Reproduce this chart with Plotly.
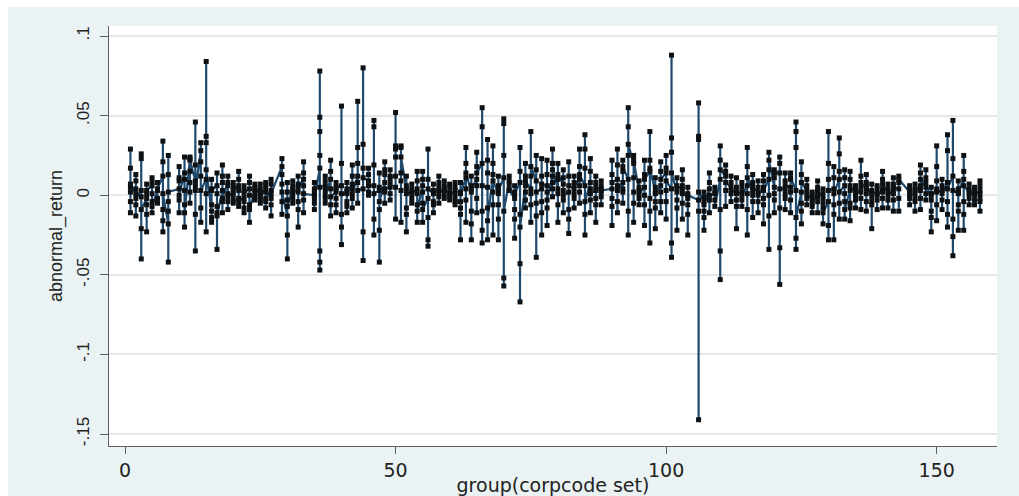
import plotly.graph_objects as go

# Abnormal returns by event group (corpcode set); each entry is (group, returns in data order)
ar_groups_001_040 = [
    (1, [.005, .029, .017, -.004, -.011, .002, .007]),
    (2, [.001, .013, -.006, .004, -.013, .009, -.002]),
    (3, [.003, .026, -.001, -.021, -.040, .023, -.009]),
    (4, [-.002, .007, -.012, .001, -.023, -.006, .003]),
    (5, [.006, .011, -.004, .001, -.011, .008, -.007]),
    (6, [.003, .008, -.002, -.005, .004]),
    (7, [.012, .034, -.009, .021, -.023, -.016, .001]),
    (8, [-.018, .025, -.004, .013, -.042, -.010, .002]),
    (10, [.004, .018, -.003, .009, -.011, .011, .000]),
    (11, [.014, .024, -.006, .003, -.020, .010, -.011]),
    (12, [.023, .024, .008, .015, -.005, .002, .022]),
    (13, [.009, .046, -.012, .006, -.035, .019, .003]),
    (14, [.028, .033, -.008, .012, -.017, .021, .003]),
    (15, [.010, .084, .037, .033, -.023, .001, .016]),
    (16, [-.010, .010, -.014, .004, -.017, -.006, .003]),
    (17, [.006, .014, -.011, .001, -.034, -.007, -.013]),
    (18, [.003, .019, -.004, .012, -.011, .008, -.002]),
    (19, [.008, .012, -.004, .001, -.009, .006, -.001]),
    (20, [.002, .008, -.003, .005, -.005, .000, .004]),
    (21, [.006, .015, -.002, .010, -.007, .003, -.004]),
    (22, [-.001, .006, -.008, .003, -.011, -.004, .002]),
    (23, [.004, .012, -.006, .008, -.017, .000, -.009]),
    (24, [.003, .007, -.001, .005, -.003, .001, .004]),
    (25, [.001, .007, -.003, .004, -.005, .002, -.001]),
    (26, [.004, .008, -.004, .002, -.008, .006, -.002]),
    (27, [.003, .010, -.006, .007, -.013, -.002, .001]),
    (29, [.018, .023, -.004, .013, -.012, .007, .002]),
    (30, [-.013, .008, -.025, -.003, -.040, .002, -.007]),
    (31, [.004, .009, -.002, .006, -.005, .001, .003]),
    (32, [.002, .012, -.009, .007, -.020, -.004, .005]),
    (33, [.010, .021, -.003, .006, -.011, .014, .001]),
    (35, [.000, .008, -.005, .004, -.009, .002, -.002]),
    (36, [.017, .078, .049, .040, .025, -.047, -.042, -.035, .005]),
    (37, [.006, .012, -.002, .009, -.005, .003, .000]),
    (38, [.010, .022, -.006, .015, -.013, .004, -.001]),
    (39, [.002, .008, -.006, .004, -.011, -.002, .005]),
    (40, [.006, .056, .020, -.012, -.031, -.020, .001]),
]

ar_groups_041_080 = [
    (41, [.001, .008, -.004, .004, -.011, -.007, .002]),
    (42, [.007, .019, -.002, .012, -.008, .004, .001]),
    (43, [.012, .059, .030, .020, -.005, .008, .003]),
    (44, [.004, .080, .032, .017, -.041, -.023, .011]),
    (45, [.009, .017, .002, .013, .000, .006]),
    (46, [.006, .047, .043, .019, -.025, -.015, .001]),
    (47, [.003, .014, -.009, .005, -.042, -.022, -.004]),
    (48, [.008, .021, .002, .013, -.005, .016, .004]),
    (49, [.005, .016, .001, .010, -.003, .007, .012]),
    (50, [.012, .052, .024, .029, -.015, .005, .031]),
    (51, [.030, .031, .009, .014, -.017, .003, .024]),
    (52, [.004, .012, -.008, .006, -.023, -.012, .001]),
    (53, [.002, .007, -.002, .004, -.005, .001]),
    (54, [.004, .015, -.006, .009, -.017, .001, -.010]),
    (55, [.006, .015, -.005, .010, -.017, .002, -.009]),
    (56, [-.002, .029, .010, -.014, -.032, -.028, .004]),
    (57, [.001, .007, -.004, .003, -.011, -.006, .002]),
    (58, [.003, .012, -.001, .008, -.005, .005, .001]),
    (59, [.004, .009, .001, .006, -.002, .003]),
    (60, [.002, .007, -.001, .005, -.003, .000]),
    (61, [.003, .008, -.002, .005, -.006, .001, -.004]),
    (62, [-.004, .008, -.012, .002, -.028, -.008, .001]),
    (63, [.011, .030, -.003, .020, -.017, .004, .014]),
    (64, [.002, .012, -.010, .006, -.028, -.018, .004]),
    (65, [.010, .027, -.002, .018, -.011, .006, .014]),
    (66, [.020, .055, .043, -.010, -.030, -.022, .006]),
    (67, [.005, .035, -.008, .022, -.028, .014, -.016]),
    (68, [.013, .031, -.006, .020, -.025, .002, .009]),
    (69, [.001, .012, -.015, .006, -.028, -.006, .003]),
    (70, [.011, .048, .045, .025, -.057, -.052, -.010]),
    (71, [.009, .012, .004, .007, .003]),
    (72, [-.002, .006, -.015, .002, -.027, -.009, .001]),
    (73, [.008, .030, -.012, .015, -.067, -.043, -.020]),
    (74, [.006, .020, -.003, .012, -.008, .002, .009]),
    (75, [.004, .040, .012, -.006, -.017, .001, .018]),
    (76, [.009, .025, -.013, .016, -.039, -.005, .002]),
    (77, [.004, .023, -.011, .012, -.025, -.004, .007]),
    (78, [.006, .022, -.008, .013, -.019, .002, -.003]),
    (79, [.012, .029, .004, .020, -.001, .008, .016]),
    (80, [.004, .020, -.006, .010, -.017, .001, .013]),
]

ar_groups_081_120 = [
    (81, [.007, .016, -.003, .011, -.011, .003, .000]),
    (82, [.002, .021, -.009, .012, -.024, -.015, .006]),
    (83, [.004, .012, -.002, .008, -.008, .001, .006]),
    (84, [.010, .029, .002, .018, -.005, .006, .013]),
    (85, [.006, .038, .029, .017, -.025, -.012, -.004]),
    (86, [.008, .023, -.003, .015, -.011, .004, .001]),
    (87, [.003, .012, -.006, .008, -.017, -.002, .005]),
    (88, [.004, .009, -.001, .006, -.006, .002, .003]),
    (90, [.004, .022, -.007, .013, -.019, -.002, .008]),
    (91, [.010, .029, -.004, .019, -.011, .006, .003]),
    (92, [.008, .022, .002, .015, -.005, .004, .018]),
    (93, [.010, .055, .043, .025, -.025, -.010, .032]),
    (94, [.020, .025, -.005, .011, -.017, .002, .022]),
    (95, [.003, .009, -.002, .005, -.006, .001]),
    (96, [.005, .022, -.006, .013, -.019, .000, .010]),
    (97, [.015, .040, .022, -.010, -.030, -.002, .017]),
    (98, [.002, .011, -.008, .005, -.021, -.004, .001]),
    (99, [.006, .021, -.004, .015, -.011, .002, .010]),
    (100, [.014, .025, -.004, .017, -.015, .003, .009]),
    (101, [.004, .088, .036, .027, -.039, -.030, .014]),
    (102, [.002, .011, -.008, .006, -.022, -.003, .004]),
    (103, [.006, .016, -.005, .010, -.015, .001, .003]),
    (104, [-.002, .005, -.012, .001, -.025, -.006, .000]),
    (106, [-.003, .058, .037, .035, -.141, -.010, .002]),
    (107, [-.004, .002, -.010, -.001, -.022, -.014, -.006]),
    (108, [.004, .014, -.003, .008, -.011, .000]),
    (109, [.001, .005, -.003, .002, -.007]),
    (110, [.010, .031, .022, -.009, -.053, -.035, .016]),
    (111, [.012, .019, .003, .015, -.007, .008]),
    (112, [.005, .012, .001, .008, -.004, .003]),
    (113, [.002, .011, -.007, .005, -.021, -.003, .001]),
    (114, [.002, .008, -.003, .005, -.007, .000]),
    (115, [.006, .030, .018, -.009, -.025, .001, .011]),
    (116, [.003, .013, -.004, .008, -.014, .000, .005]),
    (117, [.002, .009, -.004, .005, -.011, .000]),
    (118, [.005, .013, -.006, .009, -.018, -.002, .003]),
    (119, [.010, .027, -.013, .016, -.034, .000, .022]),
    (120, [.005, .016, -.003, .011, -.011, .001, .014]),
]

ar_groups_121_158 = [
    (121, [.014, .024, .020, -.008, -.056, -.033, .004]),
    (122, [.004, .014, -.002, .009, -.009, .001, .006]),
    (123, [.005, .014, -.003, .010, -.011, .002, .011]),
    (124, [.003, .046, .040, .030, -.034, -.027, -.014]),
    (125, [.002, .021, -.005, .013, -.018, -.010, .008]),
    (126, [.003, .010, -.002, .006, -.006, .001]),
    (127, [-.003, .002, -.007, .000, -.011, -.005]),
    (128, [.002, .009, -.004, .005, -.011, -.001, .003]),
    (129, [-.002, .004, -.008, .001, -.018, -.005, -.011]),
    (130, [-.004, .040, .020, .010, -.028, -.019, .003]),
    (131, [.004, .018, -.006, .011, -.028, -.012, .001]),
    (132, [.010, .036, .026, .015, -.015, -.005, .002]),
    (133, [.006, .016, -.004, .011, -.015, .001, -.009]),
    (134, [.003, .015, -.005, .010, -.016, -.008, .006]),
    (135, [.001, .006, -.003, .004, -.008, -.001]),
    (136, [.005, .022, -.002, .012, -.009, .002, .008]),
    (137, [.004, .013, -.004, .008, -.010, .001, .006]),
    (138, [-.001, .007, -.006, .003, -.021, -.004, .002]),
    (139, [.001, .006, -.003, .004, -.009, .000]),
    (140, [.004, .015, -.002, .010, -.008, .002, .007]),
    (141, [.002, .007, -.003, .004, -.008, .000]),
    (142, [.003, .011, -.003, .007, -.010, .001, .005]),
    (143, [.004, .012, -.002, .008, -.010, .010]),
    (145, [.002, .006, -.002, .004, -.006, .000]),
    (146, [.001, .007, -.004, .004, -.010, -.002, .003]),
    (147, [.006, .019, -.002, .014, -.009, .003, .010]),
    (148, [.005, .016, .001, .011, -.003, .008]),
    (149, [-.003, .005, -.010, .001, -.023, -.014, .000]),
    (150, [.004, .031, .018, .009, -.016, -.006, .002]),
    (151, [.003, .010, -.003, .006, -.009, .001]),
    (152, [.008, .038, .028, -.004, -.020, -.012, .004]),
    (153, [.012, .047, .023, -.015, -.038, -.026, .003]),
    (154, [.001, .009, -.006, .004, -.022, -.010, .002]),
    (155, [.010, .025, .015, -.004, -.022, -.012, .006]),
    (156, [.002, .007, -.002, .004, -.006, .001]),
    (157, [.001, .005, -.003, .003, -.006, .000]),
    (158, [.003, .009, -.004, .006, -.010, .001, -.002]),
]

y_tick_values = [0.1, 0.05, 0, -0.05, -0.1, -0.15]
y_tick_labels = [".1", ".05", "0", "-.05", "-.1", "-.15"]
x_tick_values = [0, 50, 100, 150]
x_tick_labels = ["0", "50", "100", "150"]

group_ids = []
abnormal_return = []
for chunk in (ar_groups_001_040, ar_groups_041_080, ar_groups_081_120, ar_groups_121_158):
    for gid, values in chunk:
        group_ids.extend([gid] * len(values))
        abnormal_return.extend(values)

BG = "#eaf2f3"
GRID = "#e3e9ea"
AXIS = "#5a5f62"
LINE = "#1f4a6e"

fig = go.Figure()
fig.add_trace(go.Scatter(
    x=group_ids,
    y=abnormal_return,
    mode="lines+markers",
    line=dict(color=LINE, width=2.2),
    marker=dict(symbol="square", size=5, color="#0d1114"),
    showlegend=False,
    hoverinfo="x+y",
))

# plot region: 109..997 px horizontally, 26..446 px vertically
fig.update_layout(
    width=1019,
    height=496,
    margin=dict(l=109, r=22, t=26, b=50, pad=0),
    paper_bgcolor=BG,
    plot_bgcolor="white",
    showlegend=False,
    shapes=[
        # white outer border strips (top and left)
        dict(type="rect", xref="paper", yref="paper", x0=-0.2, x1=1.2,
             y0=1.0455, y1=1.3, fillcolor="white", line=dict(width=0), layer="below"),
        dict(type="rect", xref="paper", yref="paper", x0=-0.2, x1=-0.1137,
             y0=-0.3, y1=1.3, fillcolor="white", line=dict(width=0), layer="below"),
    ],
    xaxis=dict(
        range=[-2.96, 161.15],
        tickmode="array",
        tickvals=x_tick_values,
        ticktext=x_tick_labels,
        ticks="outside",
        ticklen=7,
        tickwidth=1,
        tickcolor=AXIS,
        showline=True,
        linecolor=AXIS,
        linewidth=1,
        showgrid=False,
        zeroline=False,
        automargin=False,
        tickfont=dict(family="DejaVu Sans", size=19, color="#222"),
        title=dict(text="group(corpcode set)", standoff=0,
                   font=dict(family="DejaVu Sans", size=19, color="#222")),
    ),
    yaxis=dict(
        range=[-0.1575, 0.1063],
        tickmode="array",
        tickvals=y_tick_values,
        ticktext=y_tick_labels,
        tickangle=-90,
        ticks="outside",
        ticklen=8,
        tickwidth=1,
        tickcolor=AXIS,
        showline=True,
        linecolor=AXIS,
        linewidth=1,
        showgrid=True,
        gridcolor=GRID,
        gridwidth=1.5,
        zeroline=False,
        automargin=False,
        ticklabelstandoff=4,
        tickfont=dict(family="Liberation Sans", size=17, color="#222"),
        title=dict(text="abnormal_return", standoff=6,
                   font=dict(family="Liberation Sans", size=18, color="#222")),
    ),
)

fig.write_html("out.html", config={"displayModeBar": False})
